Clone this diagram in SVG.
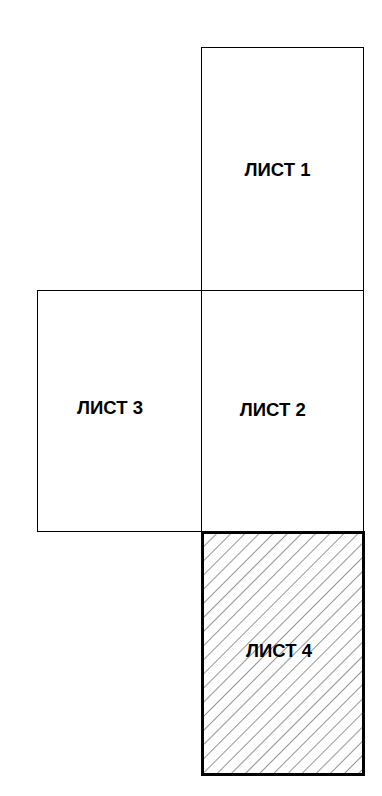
<svg xmlns="http://www.w3.org/2000/svg" width="382" height="796" viewBox="0 0 382 796">
<style>
.sheet{fill:#fff;stroke:#000;stroke-width:1}
.thick{fill:url(#hatch);stroke:#000;stroke-width:3}
.lbl{font-family:"Liberation Sans",Arial,sans-serif;font-weight:bold;font-size:18.5px;fill:#000;text-anchor:middle}
</style>
<defs>
<pattern id="hatch" patternUnits="userSpaceOnUse" width="10" height="10" patternTransform="rotate(45)">
<rect width="10" height="10" fill="#fff"/>
<line x1="0" y1="0" x2="0" y2="10" stroke="#7a7a7a" stroke-width="1.6"/>
</pattern>
</defs>
<rect width="382" height="796" fill="#fff"/>
<g id="sheet1"><rect class="sheet" x="201.5" y="47.5" width="162" height="243"/><text class="lbl" x="277.5" y="176">ЛИСТ 1</text></g>
<g id="sheet2"><rect class="sheet" x="201.5" y="290.5" width="162" height="241"/><text class="lbl" x="272.8" y="415.5">ЛИСТ 2</text></g>
<g id="sheet3"><rect class="sheet" x="37.5" y="290.5" width="164" height="241"/><text class="lbl" x="110" y="413.5">ЛИСТ 3</text></g>
<g id="sheet4"><rect class="thick" x="202.5" y="532.5" width="161" height="242"/><text class="lbl" x="279" y="657">ЛИСТ 4</text></g>
<g id="connectors"></g>
</svg>
